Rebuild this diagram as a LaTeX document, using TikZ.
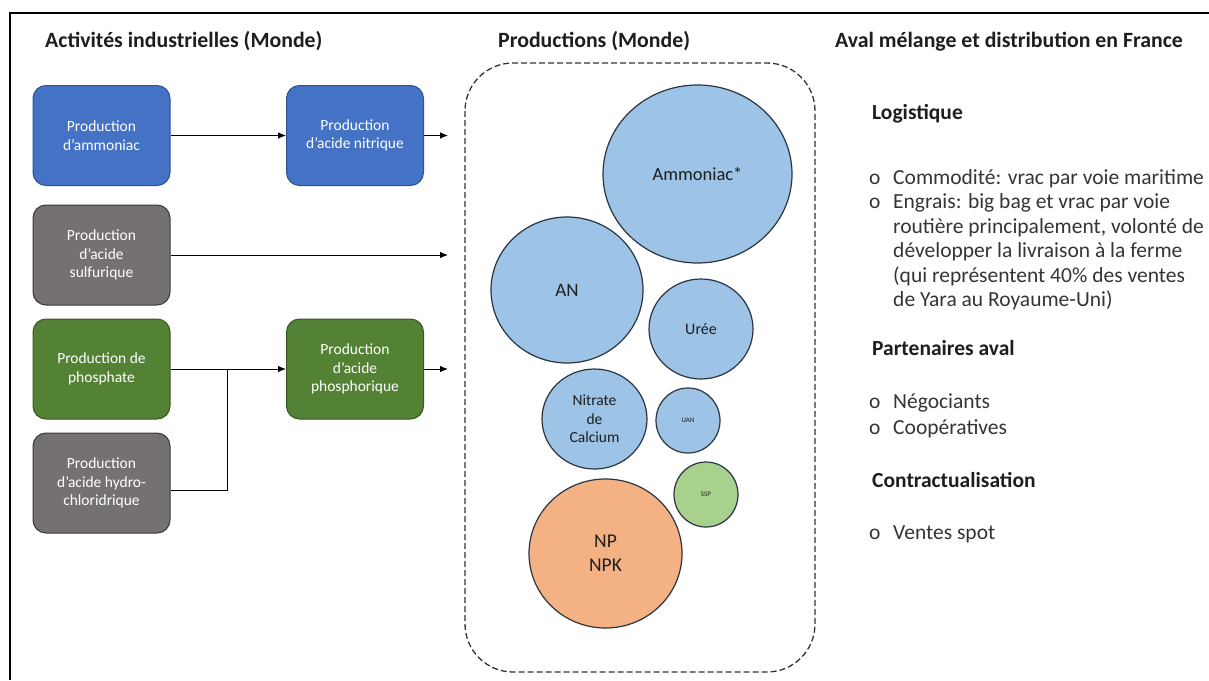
\documentclass[tikz,border=0pt]{standalone}
\usepackage{fontspec}
\setmainfont{Carlito}
\usetikzlibrary{arrows.meta,shapes.geometric}
\definecolor{bluebox}{HTML}{4472C4}
\definecolor{blueline}{HTML}{2F528F}
\definecolor{graybox}{HTML}{767171}
\definecolor{grayline}{HTML}{3B3838}
\definecolor{greenbox}{HTML}{548235}
\definecolor{greenline}{HTML}{385723}
\definecolor{bubble}{HTML}{9DC3E6}
\definecolor{bubgreen}{HTML}{A9D18E}
\definecolor{bubor}{HTML}{F4B183}
\definecolor{bubline}{HTML}{2B3440}
\definecolor{txt}{HTML}{1E1E1E}
\tikzset{
  procbox/.style={draw=#1, line width=1pt, rounded corners=13pt, minimum width=137pt, minimum height=100pt,
    align=center, text=white, font=\fontsize{15.5}{18.5}\selectfont, inner sep=2pt},
  bluep/.style={procbox=blueline, fill=bluebox},
  grayp/.style={procbox=grayline, fill=graybox},
  greenp/.style={procbox=greenline, fill=greenbox},
  bub/.style={ellipse, draw=bubline, line width=1.2pt, fill=bubble, inner sep=0pt, text=txt, align=center},
  conn/.style={line width=0.9pt, black},
  arr/.style={conn, -{Latex[length=8pt,width=6.5pt]}},
  head/.style={anchor=base west, font=\fontsize{21.8}{26}\selectfont\bfseries, text=txt, inner sep=0pt},
  rhead/.style={anchor=base west, font=\fontsize{21.5}{26}\selectfont\bfseries, text=txt, inner sep=0pt},
  rtext/.style={anchor=base west, font=\fontsize{21.5}{26}\selectfont, text=txt!90, inner sep=0pt},
}
\begin{document}
\begin{tikzpicture}[x=1pt,y=-1pt]
\useasboundingbox (0,0) rectangle (1209,680);
\fill[white] (0,0) rectangle (1209,680);
% frame
\draw[line width=2pt, black] (10,680) -- (10,13) -- (1212,13);
% headers
\node[head] (h1) at (45,47) {Activités industrielles (Monde)};
\node[head] (h2) at (498,47) {Productions (Monde)};
\node[head] (h3) at (835,47) {Aval mélange et distribution en France};
% process boxes
\node[bluep] (amm) at (101.5,135.5) {Production\\d’ammoniac};
\node[bluep] (nit) at (355,135.5) {Production\\d’acide nitrique};
\node[grayp] (sul) at (101.5,255) {Production\\d’acide\\sulfurique};
\node[greenp] (pho) at (101.5,369) {Production de\\phosphate};
\node[greenp] (pac) at (355,369) {Production\\d’acide\\phosphorique};
\node[grayp] (hyd) at (101.5,483) {Production\\d’acide hydro-\\chloridrique};
% connectors
\coordinate (o1) at (448,135.5);
\coordinate (o2) at (448,255);
\coordinate (o3) at (448,369);
\coordinate (j) at (227,369);
\draw[arr] (amm) -- (nit);
\draw[arr] (nit) -- (o1);
\draw[arr] (sul) -- (o2);
\draw[arr] (pho) -- (pac);
\draw[conn] ([yshift=-7pt]hyd.east) -| (j);
\draw[arr] (pac) -- (o3);
% dashed container
\draw[line width=1.3pt, black!80, dash pattern=on 6pt off 3pt, rounded corners=48pt] (465,63) rectangle (815,672);
% bubbles
\node[bub, minimum width=189pt, minimum height=178pt, font=\fontsize{18.5}{22}\selectfont] (ammo) at (697.5,174) {Ammoniac*};
\node[bub, minimum width=152pt, minimum height=146pt, font=\fontsize{19}{22}\selectfont] (an) at (567,290) {AN};
\node[bub, minimum width=104pt, minimum height=100pt, font=\fontsize{16}{20}\selectfont] (uree) at (701,329) {Urée};
\node[bub, minimum width=105pt, minimum height=100pt, font=\fontsize{15.5}{18.5}\selectfont] (nca) at (594.5,419) {Nitrate\\de\\Calcium};
\node[bub, minimum width=64pt, minimum height=65pt, font=\fontsize{7}{8}\selectfont] (uan) at (688,420.5) {UAN};
\node[bub, fill=bubgreen, minimum width=64pt, minimum height=65pt, font=\fontsize{7}{8}\selectfont] (ssp) at (706,494.5) {SSP};
\node[bub, fill=bubor, minimum width=153pt, minimum height=149pt, font=\fontsize{19.5}{24}\selectfont] (npk) at (605.5,553.5) {NP\\NPK};
% right column
\node[rhead] (lg) at (872,119) {Logistique};
\node[rtext] (b1) at (869,184) {o};
\node[rtext] (l1) at (893,184) {Commodité: vrac par voie maritime};
\node[rtext] (b2) at (869,208.5) {o};
\node[rtext] (l2) at (893,208.5) {Engrais: big bag et vrac par voie};
\node[rtext] (l3) at (893,233) {routière principalement, volonté de};
\node[rtext] (l4) at (893,257.5) {développer la livraison à la ferme};
\node[rtext] (l5) at (893,282) {(qui représentent 40\% des ventes};
\node[rtext] (l6) at (893,306.5) {de Yara au Royaume-Uni)};
\node[rhead] (pa) at (872,355) {Partenaires aval};
\node[rtext] (b3) at (869,408) {o};
\node[rtext] (l7) at (893,408) {Négociants};
\node[rtext] (b4) at (869,434) {o};
\node[rtext] (l8) at (893,434) {Coopératives};
\node[rhead] (ct) at (872,487) {Contractualisation};
\node[rtext] (b5) at (869,539) {o};
\node[rtext] (l9) at (893,539) {Ventes spot};
\end{tikzpicture}
\end{document}
